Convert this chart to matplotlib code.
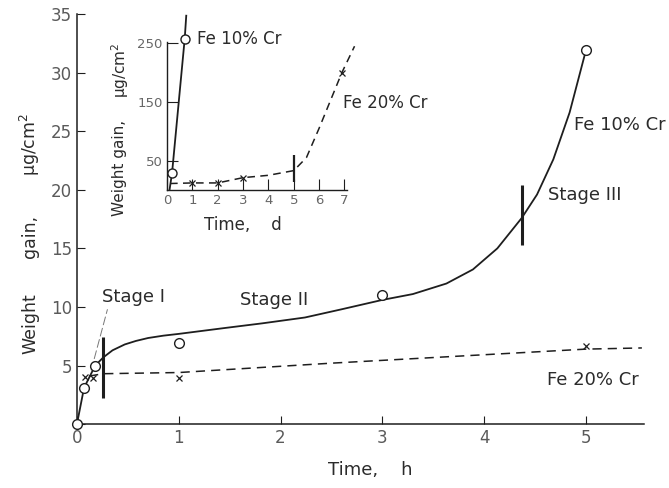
import matplotlib.pyplot as plt

plt.rcParams['font.family'] = ['DejaVu Sans']
plt.rcParams['text.color'] = '#2b2b2b'

# main plot: time in hours, weight gain in ug/cm2
fe10_pts_t = [0.0, 0.07, 0.18, 1.0, 3.0, 5.0]
fe10_pts_w = [0.0, 3.1, 5.0, 6.9, 11.0, 31.9]
fe10_curve_t = [0.0, 0.07, 0.18, 0.26, 0.35, 0.47, 0.58, 0.7, 0.85, 1.0,
                1.45, 1.82, 2.24, 2.6, 3.0, 3.3, 3.63, 3.89, 4.13, 4.37,
                4.52, 4.68, 4.84, 5.0]
fe10_curve_w = [0.0, 3.1, 5.0, 5.7, 6.3, 6.8, 7.1, 7.35, 7.55, 7.7,
                8.2, 8.6, 9.1, 9.8, 10.6, 11.1, 12.0, 13.2, 15.0, 17.6,
                19.6, 22.6, 26.6, 31.9]
fe20_pts_t = [0.08, 0.16, 1.0, 5.0]
fe20_pts_w = [4.0, 3.9, 3.9, 6.7]
fe20_curve_t = [0.12, 0.26, 1.0, 2.5, 5.0, 5.55]
fe20_curve_w = [4.1, 4.3, 4.4, 5.2, 6.4, 6.5]
stage_bounds = [0.26, 4.37]
stage_bar_lo = [2.2, 15.3]
stage_bar_hi = [7.4, 20.4]

# inset: time in days
in_fe10_t = [0.1, 0.2, 0.7, 0.76]
in_fe10_w = [0, 29, 258, 297]
in_fe10_pts_t = [0.2, 0.7]
in_fe10_pts_w = [29, 258]
in_fe20_t = [0.12, 1, 2, 3, 4, 5, 5.5, 6.0, 6.9, 7.4]
in_fe20_w = [11, 12, 12, 21, 25, 33, 55, 105, 200, 245]
in_fe20_pts_t = [1, 2, 3, 6.9]
in_fe20_pts_w = [12, 12, 21, 200]

ink = '#1e1e1e'
fig = plt.figure(figsize=(6.69, 4.88), dpi=100)
ax = fig.add_axes([0.115, 0.131, 0.8475, 0.840])
ax.set_xlim(0, 5.57)
ax.set_ylim(0, 35)
for s in ['top', 'right']:
    ax.spines[s].set_visible(False)
for s in ['left', 'bottom']:
    ax.spines[s].set_linewidth(1.1)
    ax.spines[s].set_color(ink)
ax.set_xticks([0, 1, 2, 3, 4, 5])
ax.set_yticks([0, 5, 10, 15, 20, 25, 30, 35])
ax.set_yticklabels(['', '5', '10', '15', '20', '25', '30', '35'])
ax.tick_params(direction='in', length=6, width=0.8, colors=ink,
               labelsize=12, labelcolor='#5a5a5a')

ax.plot(fe10_curve_t, fe10_curve_w, color=ink, lw=1.3, clip_on=False)
ax.plot(fe10_pts_t, fe10_pts_w, 'o', ms=7, mfc='white', mec=ink, mew=1.0,
        clip_on=False, zorder=5)
ax.plot(fe20_curve_t, fe20_curve_w, color=ink, lw=1.1, ls=(0, (6, 4)))
ax.plot(fe20_pts_t, fe20_pts_w, 'x', ms=4.5, color=ink, mew=0.9)
ax.vlines(stage_bounds, stage_bar_lo, stage_bar_hi, color=ink, lw=2.2)
# tangent leader to Stage I
ax.plot([0.14, 0.30], [4.6, 9.8], color='#777777', lw=0.7, ls=(0, (9, 3)))

ax.text(0.56, 10.85, 'Stage I', ha='center', va='center', fontsize=13)
ax.text(1.94, 10.6, 'Stage II', ha='center', va='center', fontsize=13)
ax.text(4.99, 19.6, 'Stage III', ha='center', va='center', fontsize=13)
ax.text(5.33, 25.5, 'Fe 10% Cr', ha='center', va='center', fontsize=13)
ax.text(5.07, 3.75, 'Fe 20% Cr', ha='center', va='center', fontsize=13)

# y label in three spaced pieces as on the original
fig.text(0.045, 0.336, 'Weight', rotation=90, ha='center', va='center',
         fontsize=12.5)
fig.text(0.045, 0.516, 'gain,', rotation=90, ha='center', va='center',
         fontsize=12.5)
fig.text(0.045, 0.703, '\u03bcg/cm$^2$', rotation=90, ha='center',
         va='center', fontsize=12.5)
fig.text(0.553, 0.037, 'Time,    h', ha='center', va='center', fontsize=13)

# inset
ins = fig.add_axes([0.2496, 0.6107, 0.269, 0.303])
ins.set_xlim(0, 7.1)
ins.set_ylim(0, 252)
ins.patch.set_alpha(0)
for s in ['top', 'right']:
    ins.spines[s].set_visible(False)
for s in ['left', 'bottom']:
    ins.spines[s].set_linewidth(1.0)
    ins.spines[s].set_color(ink)
ins.set_xticks(range(8))
ins.set_yticks([50, 150, 250])
ins.tick_params(direction='in', length=8, width=0.8, colors=ink,
                labelsize=9.5, labelcolor='#666666', pad=3)

ins.plot(in_fe10_t, in_fe10_w, color=ink, lw=1.3, clip_on=False)
ins.plot(in_fe10_pts_t, in_fe10_pts_w, 'o', ms=6.5, mfc='white', mec=ink,
         mew=1.0, clip_on=False, zorder=5)
ins.plot(in_fe20_t, in_fe20_w, color=ink, lw=1.1, ls=(0, (5, 3.5)),
         clip_on=False)
ins.plot(in_fe20_pts_t, in_fe20_pts_w, 'x', ms=4.5, color=ink, mew=0.9,
         clip_on=False)
ins.vlines([5], [13], [59], color=ink, lw=1.6)

ins.text(1.18, 258, 'Fe 10% Cr', ha='left', va='center', fontsize=12)
ins.text(6.93, 148, 'Fe 20% Cr', ha='left', va='center', fontsize=12,
         clip_on=False)

fig.text(0.179, 0.656, 'Weight gain,', rotation=90, ha='center',
         va='center', fontsize=11)
fig.text(0.179, 0.857, '\u03bcg/cm$^2$', rotation=90, ha='center',
         va='center', fontsize=11)
fig.text(0.363, 0.539, 'Time,    d', ha='center', va='center', fontsize=12)

fig.savefig('out.png', dpi=100)
